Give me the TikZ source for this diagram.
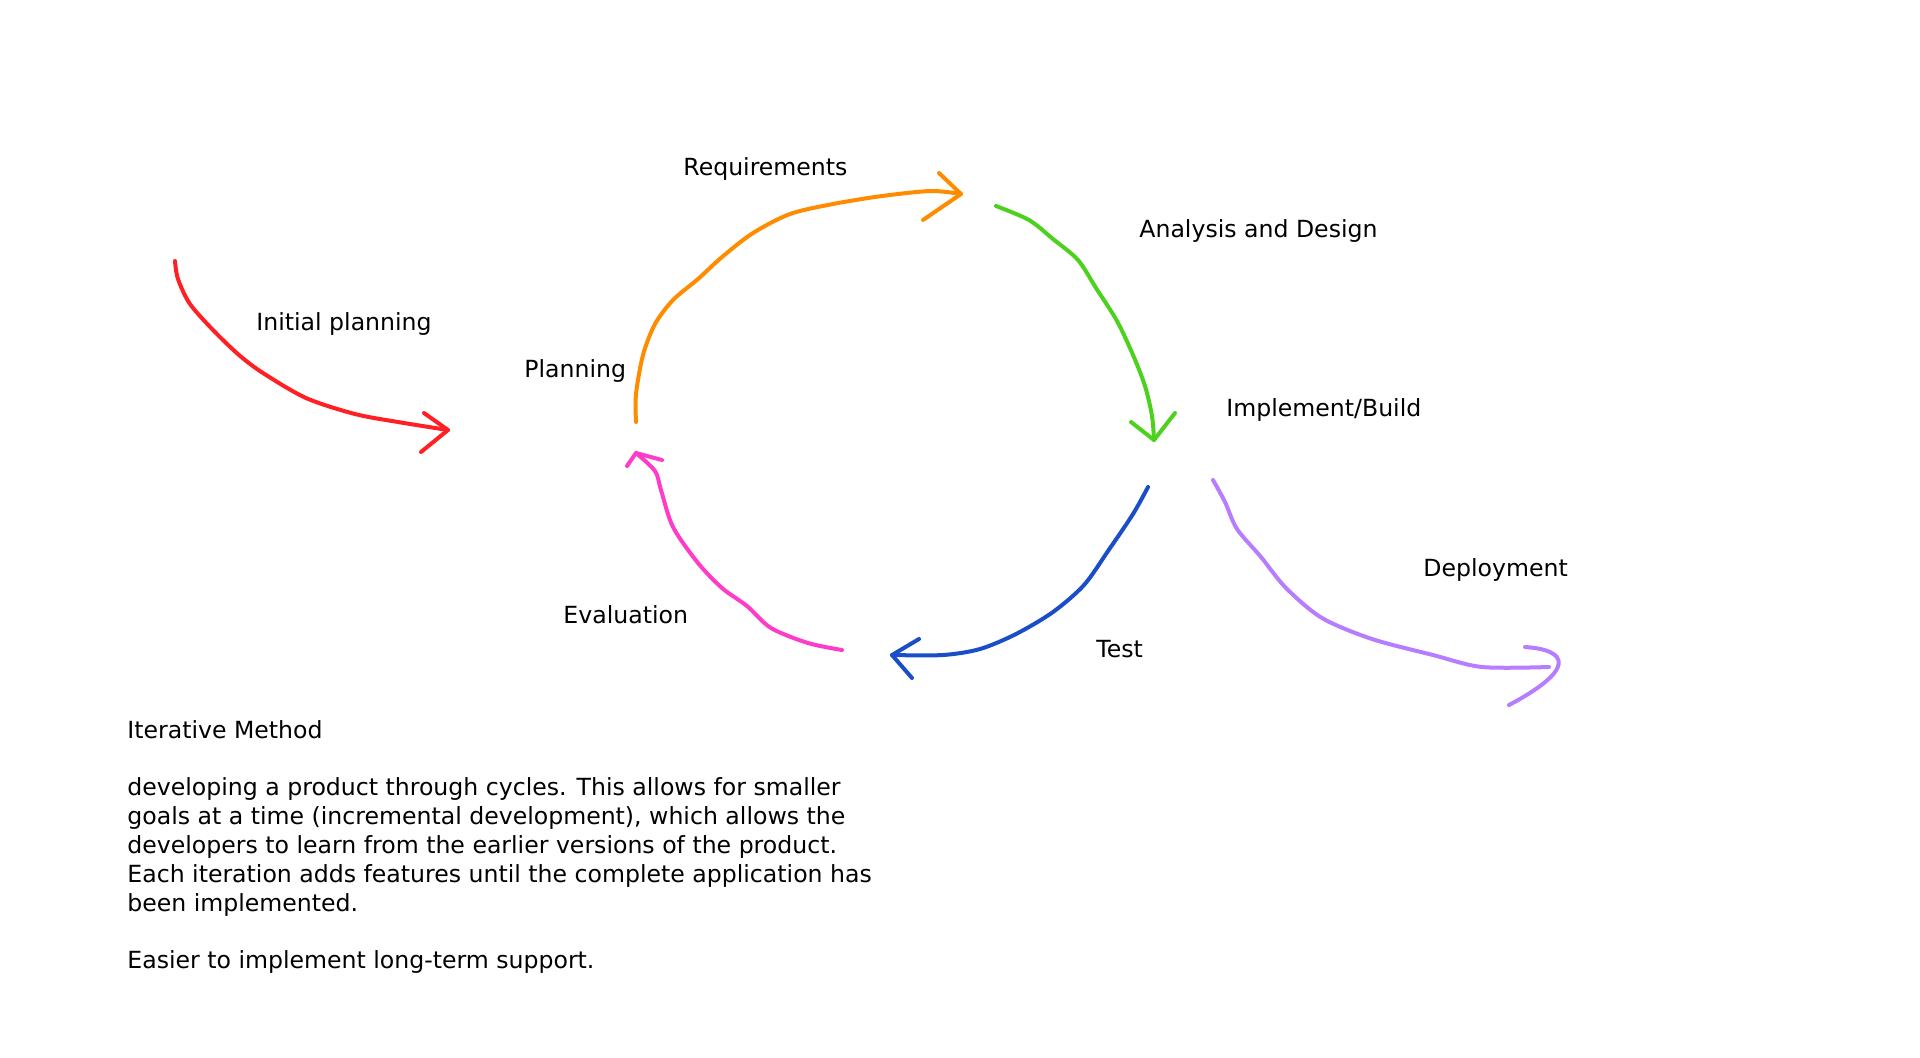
\documentclass[tikz,border=0pt]{standalone}
\usepackage{fontspec}
\setmainfont{DejaVu Sans}
\usepackage{tikz}

\definecolor{penred}{RGB}{255,32,36}
\definecolor{penorange}{RGB}{255,140,0}
\definecolor{pengreen}{RGB}{76,210,30}
\definecolor{penblue}{RGB}{26,78,200}
\definecolor{penpink}{RGB}{255,60,200}
\definecolor{penpurple}{RGB}{182,125,255}

\begin{document}
\begin{tikzpicture}[x=0.5pt, y=-0.5pt,
        font=\fontsize{11.8}{14.4}\selectfont,
        pen/.style={line width=2pt, line cap=round, line join=round},
        stage/.style={anchor=base west, inner sep=0pt}]
            \useasboundingbox (0,0) rectangle (1920,1057);
            \foreach \n/\x/\y/\t in {initial/256/330/Initial planning, planning/524/377/Planning,
                    requirements/683/175/Requirements, analysis/1139/237/Analysis and Design,
                    implement/1226/416/{Implement/Build}, deployment/1423/576/Deployment,
                    test/1096/657/Test, evaluation/563/623/Evaluation}
                \node[stage] (\n) at (\x,\y) {\t};
            \node[anchor=north west, inner sep=0pt, align=left] (method) at (127,720)
                {Iterative Method\\[14.4pt]
                developing a product through cycles. This allows for smaller\\
                goals at a time (incremental development), which allows the\\
                developers to learn from the earlier versions of the product.\\
                Each iteration adds features until the complete application has\\
                been implemented.\\[14.4pt]
                Easier to implement long-term support.};
            % initial planning
            \coordinate (initS) at (175,261);
            \coordinate (initE) at (448,430);
            \draw [pen, penred] plot[smooth] coordinates {(initS) (178,279) (190,304) (214,331) (239,355)
                (263,373) (306,398) (355,414) (398,422) (initE)};
            \draw [pen, penred] (424,413) -- (initE) -- (421,452);
            % planning to requirements
            \coordinate (reqS) at (636,422);
            \coordinate (reqE) at (961,194);
            \draw [pen, penorange] plot[smooth] coordinates {(reqS) (636,394) (643,355) (655,324) (673,300)
                (698,279) (722,257) (753,233) (790,214) (833,204) (882,196) (931,191) (reqE)};
            \draw [pen, penorange] (939,173) -- (reqE) -- (923,220);
            % analysis and design
            \coordinate (anaS) at (996,206);
            \coordinate (anaE) at (1154,440);
            \draw [pen, pengreen] plot[smooth] coordinates {(anaS) (1029,220) (1053,239) (1078,260) (1096,288)
                (1117,321) (1133,355) (1145,386) (1152,416) (anaE)};
            \draw [pen, pengreen] (1131,422) -- (anaE) -- (1175,413);
            % test
            \coordinate (testS) at (1148,487);
            \coordinate (testE) at (892,655);
            \draw [pen, penblue] plot[smooth] coordinates {(testS) (1133,514) (1108,551) (1084,585) (1053,612)
                (1016,634) (980,649) (943,655) (testE)};
            \draw [pen, penblue] (919,639) -- (testE) -- (912,678);
            % evaluation
            \coordinate (evalS) at (842,650);
            \coordinate (evalE) at (636,453);
            \draw [pen, penpink] plot[smooth] coordinates {(evalS) (808,643) (771,628) (747,606) (722,588)
                (698,563) (673,527) (661,490) (655,471) (evalE)};
            \draw [pen, penpink] (627,466) -- (evalE) -- (662,460);
            % deployment
            \coordinate (depS) at (1213,480);
            \coordinate (depE) at (1549,667);
            \draw [pen, penpurple] plot[smooth] coordinates {(depS) (1225,502) (1237,529) (1261,557) (1286,588)
                (1322,618) (1372,639) (1433,655) (1482,667) (depE)};
            \draw [pen, penpurple] (1525,647) .. controls (1570,650) and (1575,670) .. (1509,705);
        \end{tikzpicture}
\end{document}
